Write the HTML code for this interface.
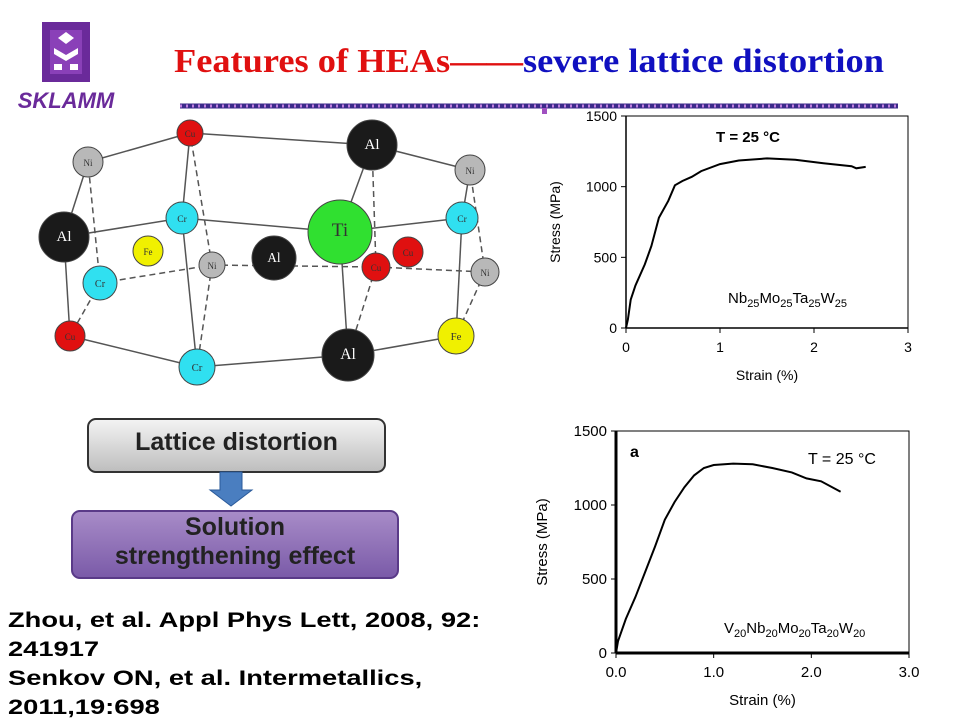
<!DOCTYPE html>
<html><head><meta charset="utf-8"><style>
body{margin:0;background:#fff;}
#root{position:relative;width:960px;height:720px;overflow:hidden;background:#fff;font-family:"Liberation Sans",sans-serif;}
.t{position:absolute;white-space:nowrap;}
</style></head><body>
<div id="root">
<svg width="960" height="720" style="position:absolute;left:0;top:0">
 <g>
  <rect x="42" y="22" width="48" height="60" fill="#6a2a9a"/>
  <rect x="50" y="30" width="32" height="44" fill="#8a40b8"/>
  <polygon points="66,32 74,38 66,44 58,38" fill="#fff"/>
  <path d="M54 48 L66 55 L78 48 L78 54 L66 61 L54 54Z" fill="#fff"/>
  <rect x="54" y="64" width="8" height="6" fill="#fff"/><rect x="70" y="64" width="8" height="6" fill="#fff"/>
  <text x="66" y="108" text-anchor="middle" font-family="Liberation Sans" font-weight="bold" font-style="italic" font-size="22" fill="#6a2a9a">SKLAMM</text>
 </g>
 <line x1="180" y1="106" x2="898" y2="106" stroke="#3b2a8a" stroke-width="5"/>
 <line x1="180" y1="106" x2="898" y2="106" stroke="#c080e0" stroke-width="3" stroke-dasharray="2 4"/>
 <rect x="542" y="108" width="5" height="6" fill="#a050c0"/>
 <g stroke="#555" stroke-width="1.5" fill="none">
  <line x1="88" y1="162" x2="190" y2="133"/><line x1="190" y1="133" x2="372" y2="145"/><line x1="372" y1="145" x2="470" y2="170"/>
  <line x1="64" y1="237" x2="182" y2="218"/><line x1="182" y1="218" x2="340" y2="232"/><line x1="340" y1="232" x2="462" y2="218"/>
  <line x1="64" y1="237" x2="70" y2="336"/><line x1="70" y1="336" x2="197" y2="367"/><line x1="197" y1="367" x2="348" y2="355"/><line x1="348" y1="355" x2="456" y2="336"/>
  <line x1="462" y1="218" x2="456" y2="336"/><line x1="182" y1="218" x2="197" y2="367"/><line x1="340" y1="232" x2="348" y2="355"/>
  <line x1="190" y1="133" x2="182" y2="218"/><line x1="372" y1="145" x2="340" y2="232"/><line x1="470" y1="170" x2="462" y2="218"/>
  <line x1="88" y1="162" x2="64" y2="237"/>
  <g stroke-dasharray="6 4">
   <line x1="100" y1="283" x2="212" y2="265"/><line x1="212" y1="265" x2="376" y2="267"/><line x1="376" y1="267" x2="485" y2="272"/>
   <line x1="100" y1="283" x2="88" y2="162"/><line x1="212" y1="265" x2="190" y2="133"/><line x1="376" y1="267" x2="372" y2="145"/><line x1="485" y1="272" x2="470" y2="170"/>
   <line x1="100" y1="283" x2="70" y2="336"/><line x1="212" y1="265" x2="197" y2="367"/><line x1="376" y1="267" x2="348" y2="355"/><line x1="485" y1="272" x2="456" y2="336"/>
  </g>
 </g>
 <g id="atoms"></g>
 <defs>
  <linearGradient id="gg" x1="0" y1="0" x2="0" y2="1"><stop offset="0" stop-color="#f4f4f4"/><stop offset="1" stop-color="#bdbdbd"/></linearGradient>
  <linearGradient id="pg" x1="0" y1="0" x2="0" y2="1"><stop offset="0" stop-color="#a88cc8"/><stop offset="1" stop-color="#7a5aa8"/></linearGradient>
 </defs>
 <rect x="88" y="419" width="297" height="53" rx="8" fill="url(#gg)" stroke="#333" stroke-width="2"/>
 <polygon points="220,472 242,472 242,490 252,490 231,506 210,490 220,490" fill="#4a7ec0" stroke="#2a5a9a"/>
 <rect x="72" y="511" width="326" height="67" rx="8" fill="url(#pg)" stroke="#5a3a88" stroke-width="2"/>
 <g id="chart1"></g>
 <g id="chart2"></g>
</svg>
<div class="t" style="left:174px;top:43px;font-family:'Liberation Serif',serif;font-weight:bold;font-size:34px;color:#e01010;transform-origin:0 0;transform:scaleX(1.07);">Features of HEAs——<span style="color:#1010c0">severe lattice distortion</span></div>
<div class="t" style="left:88px;top:428px;width:297px;text-align:center;font-size:25px;font-weight:bold;color:#222;">Lattice distortion</div>
<div class="t" style="left:72px;top:513px;width:326px;text-align:center;font-size:25px;font-weight:bold;color:#222;line-height:29px;">Solution<br>strengthening effect</div>
<div class="t" style="left:8px;top:606px;font-weight:bold;font-size:21px;line-height:29px;transform-origin:0 0;transform:scaleX(1.3);">Zhou, et al. Appl Phys Lett, 2008, 92:<br>241917<br>Senkov ON, et al. Intermetallics,<br>2011,19:698</div>
</div>
<script>
// top chart data
const strain1 = [0,0.02,0.05,0.1,0.2,0.27,0.35,0.45,0.52,0.6,0.7,0.8,1.0,1.2,1.5,1.8,2.1,2.4,2.45,2.55];
const stress1 = [0,60,200,300,450,580,780,900,1010,1040,1070,1110,1160,1185,1200,1190,1165,1145,1130,1140];
const xTicks1 = ["0","1","2","3"];
const yTicks1 = ["0","500","1000","1500"];
// bottom chart data
const strain2 = [0,0.02,0.1,0.2,0.3,0.4,0.5,0.6,0.7,0.8,0.9,1.0,1.2,1.4,1.6,1.8,1.95,2.1,2.3];
const stress2 = [0,80,230,380,550,720,900,1020,1120,1200,1250,1270,1280,1275,1250,1220,1180,1160,1090];
const xTicks2 = ["0.0","1.0","2.0","3.0"];
const yTicks2 = ["0","500","1000","1500"];
const atoms = [
 [190,133,13,"Cu","#e01010"],[372,145,25,"Al","#1a1a1a"],[88,162,15,"Ni","#b8b8b8"],[470,170,15,"Ni","#b8b8b8"],
 [64,237,25,"Al","#1a1a1a"],[182,218,16,"Cr","#30e0f0"],[462,218,16,"Cr","#30e0f0"],[148,251,15,"Fe","#f0f000"],
 [212,265,13,"Ni","#b8b8b8"],[274,258,22,"Al","#1a1a1a"],[408,252,15,"Cu","#e01010"],[376,267,14,"Cu","#e01010"],
 [485,272,14,"Ni","#b8b8b8"],[100,283,17,"Cr","#30e0f0"],[340,232,32,"Ti","#30e030"],[70,336,15,"Cu","#e01010"],
 [456,336,18,"Fe","#f0f000"],[197,367,18,"Cr","#30e0f0"],[348,355,26,"Al","#1a1a1a"]];
const NS="http://www.w3.org/2000/svg";
function mk(tag,attrs,parent){const e=document.createElementNS(NS,tag);for(const k in attrs)e.setAttribute(k,attrs[k]);parent.appendChild(e);return e;}
const ag=document.getElementById('atoms');
atoms.forEach(a=>{
 const c=mk('circle',{cx:a[0],cy:a[1],r:a[2],fill:a[4],stroke:'#444','stroke-width':1},ag);
 
 
 const t=mk('text',{x:a[0],y:a[1]+4,'text-anchor':'middle','font-family':'Liberation Serif','font-size':Math.max(9,a[2]*0.6),fill:a[4]=="#1a1a1a"?'#fff':'#333'},ag);
 t.textContent=a[3];
 
 
});
function chart(g,cfg){
 const X=v=>cfg.x0+(v-0)/(3-0)*(cfg.x1-cfg.x0);
 const Y=v=>cfg.y0-(v/1500)*(cfg.y0-cfg.y1);
 const frame=mk('rect',{x:cfg.x0,y:cfg.y1,width:cfg.x1-cfg.x0,height:cfg.y0-cfg.y1,fill:'none',stroke:'#000','stroke-width':1},g);
 
 
 const ax=mk('line',{x1:cfg.x0,y1:cfg.y1,x2:cfg.x0,y2:cfg.y0,stroke:'#000','stroke-width':cfg.axw},g);
 
 
 const bx=mk('line',{x1:cfg.x0,y1:cfg.y0,x2:cfg.x1,y2:cfg.y0,stroke:'#000','stroke-width':cfg.axw},g);
 
 
 cfg.xt.forEach((l,i)=>{const v=parseFloat(l);
  mk('line',{x1:X(v),y1:cfg.y0,x2:X(v),y2:cfg.y0+5,stroke:'#000'},g);
  const t=mk('text',{x:X(v),y:cfg.y0+24,'text-anchor':'middle','font-size':cfg.fs},g);t.textContent=l;
  
  });
 cfg.yt.forEach(l=>{const v=parseFloat(l);
  mk('line',{x1:cfg.x0-5,y1:Y(v),x2:cfg.x0,y2:Y(v),stroke:'#000'},g);
  const t=mk('text',{x:cfg.x0-9,y:Y(v)+5,'text-anchor':'end','font-size':cfg.fs},g);t.textContent=l;
  
  });
 const p=mk('path',{d:cfg.xs.map((v,i)=>(i?'L':'M')+X(v).toFixed(1)+' '+Y(cfg.ys[i]).toFixed(1)).join(''),fill:'none',stroke:'#000','stroke-width':2},g);
 
 
 const xl=mk('text',{x:(cfg.x0+cfg.x1)/2,y:cfg.y0+52,'text-anchor':'middle','font-size':cfg.fs},g);xl.textContent='Strain  (%)';
 
 
 const yl=mk('text',{x:0,y:0,'text-anchor':'middle','font-size':cfg.fs,transform:`translate(${cfg.ylx},${(cfg.y0+cfg.y1)/2}) rotate(-90)`},g);yl.textContent='Stress  (MPa)';
 
 
 const tt=mk('text',{x:cfg.tx,y:cfg.ty,'font-size':cfg.fs+1,'font-weight':cfg.tb},g);tt.textContent='T = 25 °C';
 
 
 const al=mk('text',{x:cfg.ax,y:cfg.ay,'font-size':15},g);
 al.innerHTML=cfg.alloy;
 
 
}
const sub=n=>`<tspan font-size="11" dy="4">${n}</tspan><tspan dy="-4">`;
chart(document.getElementById('chart1'),{x0:626,x1:908,y0:328,y1:116,xs:strain1,ys:stress1,xt:xTicks1,yt:yTicks1,axw:1.5,fs:14,ylx:560,tx:716,ty:142,tb:'bold',ax:728,ay:303,
 alloy:'Nb'+sub('25')+'Mo</tspan>'+sub('25')+'Ta</tspan>'+sub('25')+'W</tspan>'+sub('25')+'</tspan>'});
chart(document.getElementById('chart2'),{x0:616,x1:909,y0:653,y1:431,xs:strain2,ys:stress2,xt:xTicks2,yt:yTicks2,axw:3,fs:15,ylx:547,tx:808,ty:464,tb:'normal',ax:724,ay:633,
 alloy:'V'+sub('20')+'Nb</tspan>'+sub('20')+'Mo</tspan>'+sub('20')+'Ta</tspan>'+sub('20')+'W</tspan>'+sub('20')+'</tspan>'});
const a=document.createElementNS(NS,'text');
a.setAttribute('x',630);a.setAttribute('y',457);a.setAttribute('font-size',16);a.setAttribute('font-weight','bold');a.textContent='a';


document.getElementById('chart2').appendChild(a);
</script>
</body></html>
